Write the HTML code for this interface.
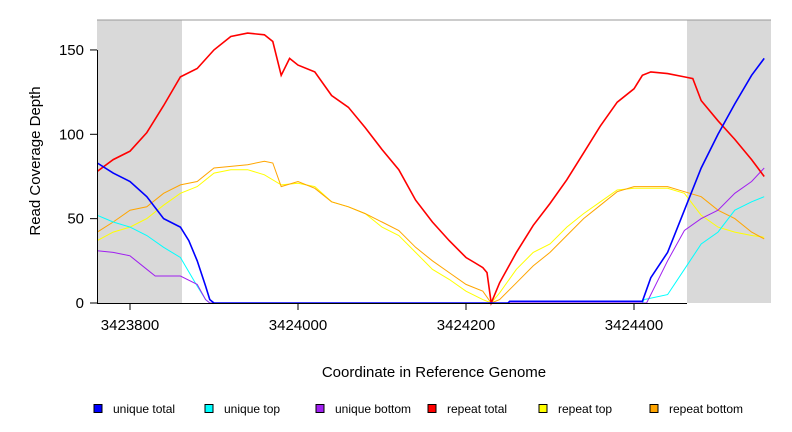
<!DOCTYPE html>
<html><head><meta charset="utf-8"><style>
body{margin:0;background:#fff}
svg{display:block;font-family:"Liberation Sans",sans-serif}
</style></head><body>
<svg id="chart" width="792" height="432" viewBox="0 0 792 432">
<rect x="97" y="20" width="85" height="283" fill="#d9d9d9"/>
<rect x="687" y="20" width="84" height="283" fill="#d9d9d9"/>
<g id="series"></g>
<line x1="97" y1="20" x2="771" y2="20" stroke="#999" stroke-width="1"/>
<g id="axes"></g>
<text x="40" y="161" transform="rotate(-90 40 161)" font-size="15" text-anchor="middle">Read Coverage Depth</text>
<text x="434" y="377" font-size="15" text-anchor="middle">Coordinate in Reference Genome</text>
<g id="legend"></g>
</svg>
<script>
const seriesNames=["unique total","unique top","unique bottom","repeat total","repeat top","repeat bottom"];
const seriesColors=["#0000ff","#00ffff","#a020f0","#ff0000","#ffff00","#ffa500"];
const xTicks=[3423800,3424000,3424200,3424400];
const yTicks=[0,50,100,150];
const uniqueTotal=[[3423761,83],[3423780,77],[3423800,72],[3423820,63],[3423840,50],[3423860,45],[3423870,37],[3423880,25],[3423890,10],[3423895,2],[3423900,0],[3424250,0],[3424252,1],[3424410,1],[3424420,15],[3424440,30],[3424460,55],[3424480,80],[3424500,100],[3424520,118],[3424540,135],[3424555,145]];
const uniqueTop=[[3423761,52],[3423780,48],[3423800,45],[3423820,40],[3423840,33],[3423860,27],[3423880,10],[3423890,2],[3423895,0],[3424410,0],[3424412,2],[3424440,5],[3424460,20],[3424480,35],[3424500,42],[3424520,55],[3424540,60],[3424555,63]];
const uniqueBottom=[[3423761,31],[3423780,30],[3423800,28],[3423820,20],[3423830,16],[3423860,16],[3423880,11],[3423890,2],[3423895,0],[3424415,0],[3424420,5],[3424440,25],[3424460,43],[3424480,50],[3424500,55],[3424520,65],[3424540,72],[3424555,80]];
const repeatTotal=[[3423761,78],[3423780,85],[3423800,90],[3423820,101],[3423840,117],[3423860,134],[3423880,139],[3423900,150],[3423920,158],[3423940,160],[3423960,159],[3423970,155],[3423980,135],[3423990,145],[3424000,141],[3424020,137],[3424040,123],[3424060,116],[3424080,104],[3424100,91],[3424120,79],[3424140,61],[3424160,48],[3424180,37],[3424200,27],[3424210,24],[3424220,21],[3424225,18],[3424230,0],[3424240,12],[3424250,21],[3424260,30],[3424280,46],[3424300,59],[3424320,73],[3424340,89],[3424360,105],[3424380,119],[3424400,127],[3424410,135],[3424420,137],[3424440,136],[3424460,134],[3424470,133],[3424480,120],[3424500,108],[3424520,97],[3424540,85],[3424555,75]];
const repeatTop=[[3423761,37],[3423780,42],[3423800,45],[3423820,50],[3423840,58],[3423860,65],[3423880,69],[3423900,77],[3423920,79],[3423940,79],[3423960,76],[3423980,70],[3424000,71],[3424020,69],[3424040,60],[3424060,57],[3424080,53],[3424100,45],[3424120,40],[3424140,30],[3424160,20],[3424180,14],[3424200,7],[3424220,2],[3424230,0],[3424240,6],[3424260,20],[3424280,30],[3424300,35],[3424320,45],[3424340,53],[3424360,60],[3424380,67],[3424400,68],[3424440,68],[3424460,65],[3424480,52],[3424500,45],[3424520,42],[3424540,40],[3424555,39]];
const repeatBottom=[[3423761,42],[3423780,48],[3423800,55],[3423820,57],[3423840,65],[3423860,70],[3423880,72],[3423900,80],[3423920,81],[3423940,82],[3423960,84],[3423970,83],[3423980,69],[3424000,72],[3424020,68],[3424040,60],[3424060,57],[3424080,53],[3424100,48],[3424120,43],[3424140,33],[3424160,25],[3424180,18],[3424200,11],[3424220,7],[3424230,0],[3424240,2],[3424260,12],[3424280,22],[3424300,30],[3424320,40],[3424340,50],[3424360,58],[3424380,66],[3424400,69],[3424440,69],[3424460,66],[3424480,63],[3424500,55],[3424520,50],[3424540,42],[3424555,38]];

const NS="http://www.w3.org/2000/svg";
const X0=3423760.7, XPX=97, XS=0.84, YPX=303, YS=1.687;
function xs(v){return XPX+(v-X0)*XS;}
function ys(v){return YPX-v*YS;}
function mk(tag,attrs,parent){const e=document.createElementNS(NS,tag);for(const k in attrs)e.setAttribute(k,attrs[k]);parent.appendChild(e);return e;}
const all=[uniqueTotal,uniqueTop,uniqueBottom,repeatTotal,repeatTop,repeatBottom];
const widths=[1.6,1,1,1.6,1,1];
const order=[4,5,1,2,3,0];
const sg=document.getElementById('series');
order.forEach(i=>{
  const d=all[i];let p="";
  d.forEach((pt,j)=>{
    const x=xs(pt[0]).toFixed(1), y=ys(pt[1]).toFixed(1);
    p+=(j===0?"M":"L")+x+","+y;
  });
  const el=mk('path',{d:p,fill:"none",stroke:seriesColors[i],"stroke-width":widths[i],"stroke-linejoin":"miter"},sg);
  
  
});
const ax=document.getElementById('axes');
const xl=mk('line',{x1:97,y1:303.5,x2:687,y2:303.5,stroke:"#000"},ax);


const yl=mk('line',{x1:97.5,y1:ys(150),x2:97.5,y2:303,stroke:"#000"},ax);


xTicks.forEach(t=>{
  const x=xs(t);
  const tk=mk('line',{x1:x,y1:303,x2:x,y2:310,stroke:"#000"},ax);
  
  
  const tx=mk('text',{x:x,y:330,"font-size":15,"text-anchor":"middle"},ax);
  tx.textContent=t;
  
  
});
yTicks.forEach(t=>{
  const y=ys(t);
  const tk=mk('line',{x1:90,y1:y,x2:97,y2:y,stroke:"#000"},ax);
  
  
  const tx=mk('text',{x:84,y:y+5,"font-size":15,"text-anchor":"end"},ax);
  tx.textContent=t;
  
  
});
const lg=document.getElementById('legend');
const lx=[94,205,316,428,539,650];
seriesNames.forEach((n,i)=>{
  const g=mk('g',{},lg);
  
  
  mk('rect',{x:lx[i],y:404.5,width:8,height:8,fill:seriesColors[i],stroke:"#000","stroke-width":1},g);
  const t=mk('text',{x:lx[i]+19,y:413,"font-size":12},g);
  t.textContent=n;
});
</script>
</body></html>
